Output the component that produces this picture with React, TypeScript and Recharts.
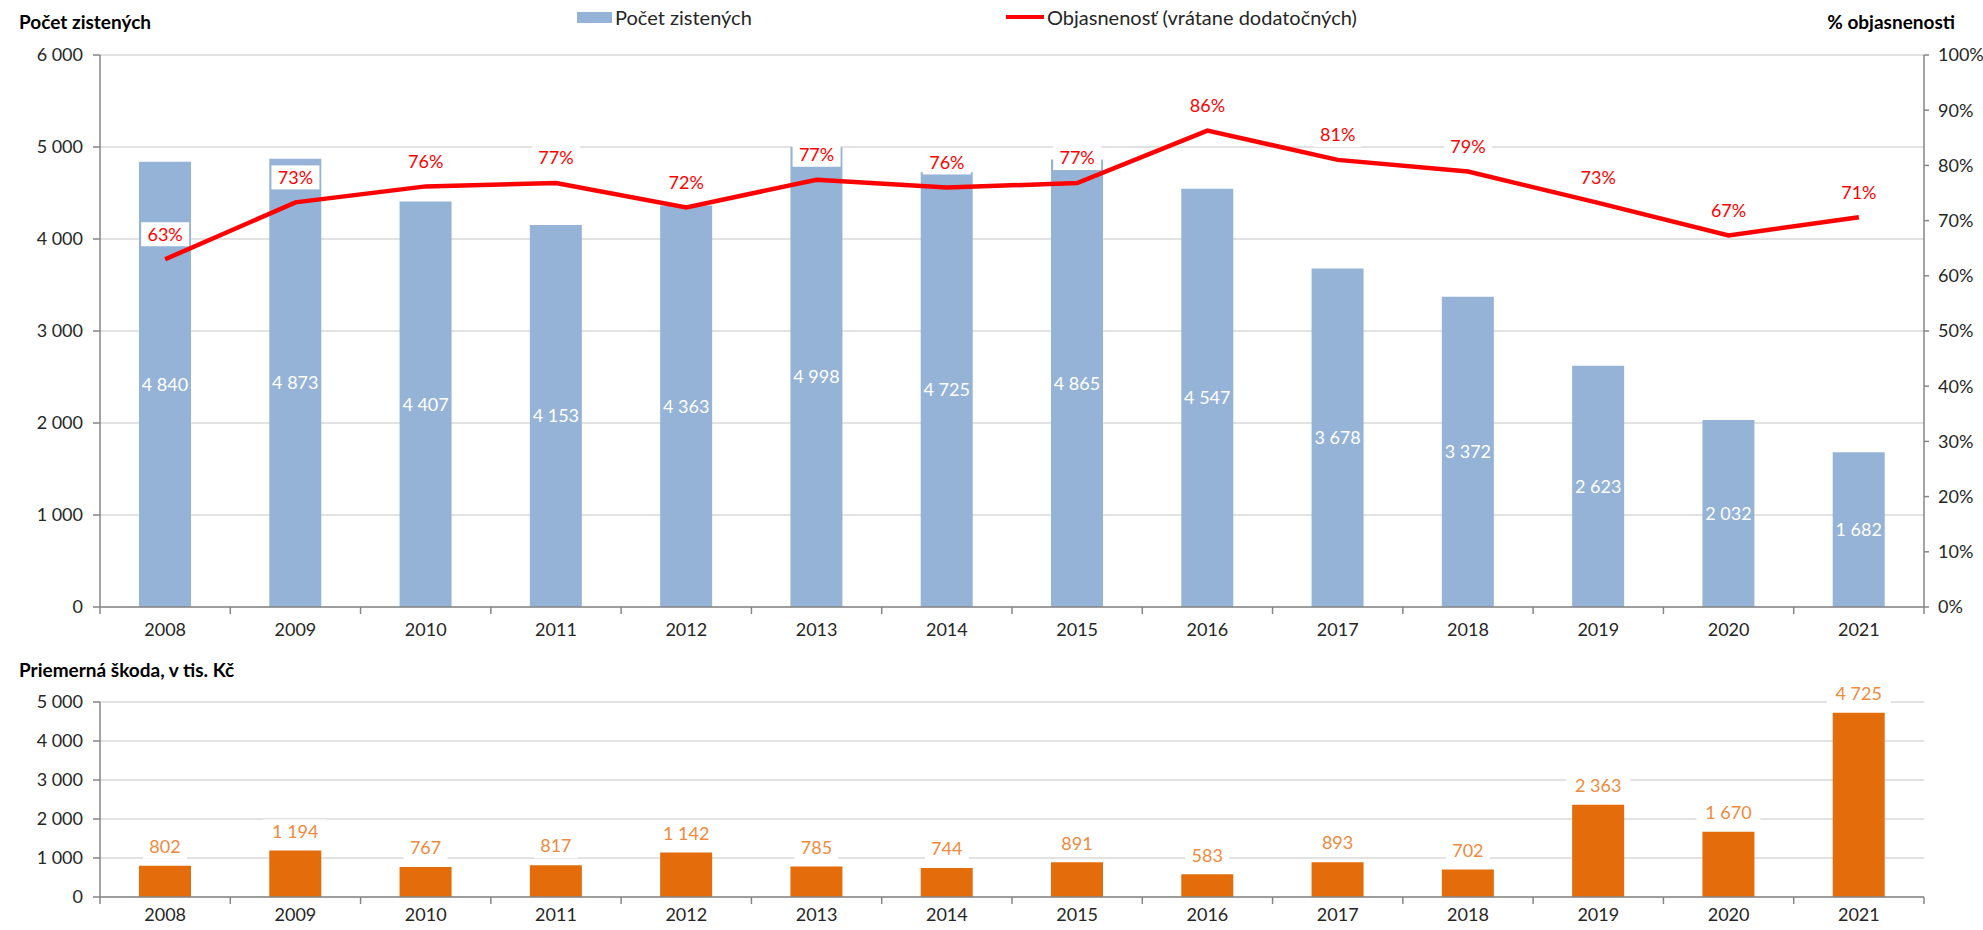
import { ComposedChart, BarChart, Bar, Line, XAxis, YAxis, CartesianGrid, LabelList } from 'recharts';

const years = ['2008', '2009', '2010', '2011', '2012', '2013', '2014', '2015', '2016', '2017', '2018', '2019', '2020', '2021'];
const detectedCounts = [4840, 4873, 4407, 4153, 4363, 4998, 4725, 4865, 4547, 3678, 3372, 2623, 2032, 1682];
const clearanceRates = [63.0, 73.3, 76.2, 76.8, 72.4, 77.4, 76.0, 76.8, 86.3, 81.0, 78.9, 73.2, 67.3, 70.6];
const averageDamage = [802, 1194, 767, 817, 1142, 785, 744, 891, 583, 893, 702, 2363, 1670, 4725];

const countTicks = [0, 1000, 2000, 3000, 4000, 5000, 6000];
const rateTicks = [0, 10, 20, 30, 40, 50, 60, 70, 80, 90, 100];
const damageTicks = [0, 1000, 2000, 3000, 4000, 5000];

const topData = years.map((year, i) => ({ year, count: detectedCounts[i], rate: clearanceRates[i] }));
const bottomData = years.map((year, i) => ({ year, damage: averageDamage[i] }));

const FONT = 'Lato, "Noto Sans", sans-serif';
const TEXT = '#262626';
const AXIS = '#868686';
const GRID = '#D9D9D9';
const BLUE = '#95B3D7';
const ORANGE = '#E46C0A';
const ORANGE_TEXT = '#F08A3C';
const RED = '#FF0000';

const PLOT_W = 1824;
const BAND = PLOT_W / years.length;

const fmt = (v: number) => String(v).replace(/\B(?=(\d{3})+(?!\d))/g, ' ');

const makeYearTick = (margin: number) => (props: any) => {
  const { x, y, payload, index } = props;
  const axisY = y - margin;
  const half = BAND / 2;
  return (
    <g>
      <line x1={x - half} x2={x - half} y1={axisY} y2={axisY + 7} stroke={AXIS} strokeWidth={1.5} />
      {index === years.length - 1 && (
        <line x1={x + half} x2={x + half} y1={axisY} y2={axisY + 7} stroke={AXIS} strokeWidth={1.5} />
      )}
      <text x={x} y={y} dy="0.71em" textAnchor="middle" fill={TEXT} fontSize={18} fontFamily={FONT}>
        {payload.value}
      </text>
    </g>
  );
};

const CountLabel = (props: any) => {
  const { x, y, width, height, value } = props;
  return (
    <text x={x + width / 2} y={y + height / 2} dy="0.35em" textAnchor="middle" fill="#fff" fontSize={18} fontFamily={FONT}>
      {fmt(value)}
    </text>
  );
};

const RateLabel = (props: any) => {
  const { x, y, value } = props;
  const cy = y - 25;
  return (
    <g>
      <rect x={x - 24} y={cy - 12} width={48} height={24} fill="#fff" />
      <text x={x} y={cy} dy="0.35em" textAnchor="middle" fill={RED} fontSize={18} fontFamily={FONT}>
        {Math.round(value)}%
      </text>
    </g>
  );
};

const DamageLabel = (props: any) => {
  const { x, y, width, value } = props;
  const cx = x + width / 2;
  const cy = y - 19;
  const w = fmt(value).length * 10 + 14;
  return (
    <g>
      <rect x={cx - w / 2} y={cy - 12} width={w} height={24} fill="#fff" />
      <text x={cx} y={cy} dy="0.35em" textAnchor="middle" fill={ORANGE_TEXT} fontSize={18} fontFamily={FONT}>
        {fmt(value)}
      </text>
    </g>
  );
};

const tickStyle = { fill: TEXT, fontSize: 18, fontFamily: FONT };
const titleStyle: React.CSSProperties = {
  position: 'absolute',
  fontFamily: FONT,
  fontWeight: 700,
  fontSize: 19,
  color: '#000',
  whiteSpace: 'nowrap',
};
const legendStyle: React.CSSProperties = {
  position: 'absolute',
  top: 5,
  display: 'flex',
  alignItems: 'center',
  fontSize: 20,
  color: TEXT,
  whiteSpace: 'nowrap',
};

export default function App() {
  return (
    <div style={{ position: 'absolute', left: 0, top: 0, width: 1983, height: 930, background: '#fff', fontFamily: FONT }}>
      <div style={{ ...titleStyle, left: 19, top: 10 }}>Počet zistených</div>
      <div style={{ ...titleStyle, right: 28, top: 10 }}>% objasnenosti</div>
      <div style={{ ...titleStyle, left: 19, top: 658 }}>Priemerná škoda, v tis. Kč</div>

      <div style={{ ...legendStyle, left: 577 }}>
        <span style={{ display: 'inline-block', width: 35, height: 11, background: BLUE, marginRight: 3 }} />
        Počet zistených
      </div>
      <div style={{ ...legendStyle, left: 1006 }}>
        <span style={{ display: 'inline-block', width: 38, height: 4, background: RED, marginRight: 3 }} />
        Objasnenosť (vrátane dodatočných)
      </div>

      <div style={{ position: 'absolute', left: 0, top: 0 }}>
        <ComposedChart width={1983} height={650} data={topData} margin={{ top: 55, right: 0, bottom: 0, left: 0 }} barCategoryGap={0}>
          <CartesianGrid yAxisId="left" vertical={false} stroke={GRID} strokeWidth={1.5} />
          <XAxis
            dataKey="year"
            height={43}
            axisLine={{ stroke: AXIS, strokeWidth: 1.5 }}
            tickLine={false}
            tickSize={0}
            tickMargin={16}
            tick={makeYearTick(16)}
            interval={0}
          />
          <YAxis
            yAxisId="left"
            width={100}
            domain={[0, 6000]}
            ticks={countTicks}
            tickFormatter={fmt}
            tick={tickStyle}
            axisLine={{ stroke: AXIS, strokeWidth: 1.5 }}
            tickLine={{ stroke: AXIS, strokeWidth: 1.5 }}
            tickSize={7}
            tickMargin={10}
          />
          <YAxis
            yAxisId="right"
            orientation="right"
            width={59}
            domain={[0, 100]}
            ticks={rateTicks}
            tickFormatter={(v: number) => `${v}%`}
            tick={tickStyle}
            axisLine={{ stroke: AXIS, strokeWidth: 1.5 }}
            tickLine={{ stroke: AXIS, strokeWidth: 1.5 }}
            tickSize={5}
            tickMargin={9}
          />
          <Bar yAxisId="left" dataKey="count" fill={BLUE} barSize={52} isAnimationActive={false}>
            <LabelList dataKey="count" content={CountLabel} />
          </Bar>
          <Line
            yAxisId="right"
            dataKey="rate"
            stroke={RED}
            strokeWidth={4.5}
            dot={false}
            type="linear"
            isAnimationActive={false}
          >
            <LabelList dataKey="rate" content={RateLabel} />
          </Line>
        </ComposedChart>
      </div>

      <div style={{ position: 'absolute', left: 0, top: 650 }}>
        <BarChart width={1983} height={280} data={bottomData} margin={{ top: 52, right: 59, bottom: 0, left: 0 }}>
          <CartesianGrid vertical={false} stroke={GRID} strokeWidth={1.5} />
          <XAxis
            dataKey="year"
            height={33}
            axisLine={{ stroke: AXIS, strokeWidth: 1.5 }}
            tickLine={false}
            tickSize={0}
            tickMargin={11}
            tick={makeYearTick(11)}
            interval={0}
          />
          <YAxis
            width={100}
            domain={[0, 5000]}
            ticks={damageTicks}
            tickFormatter={fmt}
            tick={tickStyle}
            axisLine={{ stroke: AXIS, strokeWidth: 1.5 }}
            tickLine={{ stroke: AXIS, strokeWidth: 1.5 }}
            tickSize={7}
            tickMargin={10}
          />
          <Bar dataKey="damage" fill={ORANGE} barSize={52} isAnimationActive={false}>
            <LabelList dataKey="damage" content={DamageLabel} />
          </Bar>
        </BarChart>
      </div>
    </div>
  );
}
